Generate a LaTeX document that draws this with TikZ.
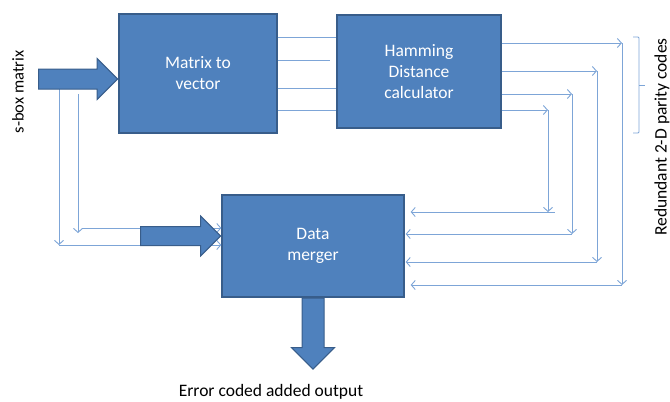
\documentclass[tikz,border=0pt]{standalone}
\usepackage{fontspec}
\setmainfont{Carlito}
\usepackage{xcolor}
\usetikzlibrary{positioning,arrows.meta,shapes.arrows}
\definecolor{boxblue}{RGB}{79,129,189}
\definecolor{edgeblue}{RGB}{56,93,138}
\definecolor{wireblue}{RGB}{125,165,215}

\begin{document}
\begin{tikzpicture}[
  x=1pt,y=-1pt,
  font=\fontsize{17.5}{21}\selectfont,
  blk/.style={draw=edgeblue,line width=1.3pt,fill=boxblue,text=white,align=center,inner sep=0pt},
  fat/.style={single arrow,draw=edgeblue,line width=1pt,fill=boxblue,inner xsep=0pt,inner ysep=9.5pt,single arrow head extend=10.5pt},
  wire/.style={draw=wireblue,line width=0.9pt},
  >={Straight Barb[length=4pt,width=9pt]},
]
\useasboundingbox (0,0) rectangle (670,402);

% processing blocks
\node[blk,minimum width=158pt,minimum height=119pt] (mtv) at (198,73.5) {Matrix to\\vector};
\node[blk,minimum width=164pt,minimum height=113pt] (hdc) at (419,71.5) {Hamming\\Distance\\calculator};
\node[blk,minimum width=182pt,minimum height=102pt] (dm) at (313,246) {Data\\merger};

% vector lines
\foreach \vy in {37,88,110}
  \draw[wire] (mtv.east |- 0,\vy) -- (hdc.west |- 0,\vy);
\draw[wire] (mtv.east |- 0,60) -- ([xshift=-6pt]hdc.west |- 0,60);

% parity codes back to the merger
\foreach \hy/\vx/\ly/\ex in {43/622/285/6, 71/597/262/1, 94/572/234/1, 110/548/212/6}{
  \draw[wire,->] (hdc.east |- 0,\hy) -- (\vx,\hy);
  \draw[wire,->] (\vx,\hy) -- (\vx,\ly);
  \draw[wire,->] (\vx,\ly) -- ([xshift=\ex pt]dm.east |- 0,\ly);
}
\draw[wire] (548,212) -- (555,212);

% s-box taps
\coordinate (tapa) at (59,88);
\coordinate (tapb) at (78,94);
\draw[wire,->] (tapa) -- (59,245);
\draw[wire,->] (59,245) -- (dm.west |- 0,245);
\draw[wire,->] (tapb) -- (78,233);
\draw[wire,->] (82,228) -- (dm.west |- 0,228);

% block arrows
\node[fat,minimum height=79pt,anchor=tip] (sin) at ([yshift=-5.5pt]mtv.west) {};
\node[fat,minimum height=80pt,inner ysep=9pt,anchor=tip] (din) at ([yshift=10pt]dm.west) {};
\node[fat,minimum height=71pt,inner xsep=10.5pt,inner ysep=0pt,shape border rotate=270,anchor=tail] (dout) at (dm.south) {};

% bracket
\draw[wire,rounded corners=1pt] (633,37) -- (639,37) -- (639,133) -- (633,133);
\draw[wire] (639,85) -- (645,85);

% labels
\node[rotate=90,font=\fontsize{16.5}{20}\selectfont] (sbox) at (18,92) {s-box matrix};
\node[rotate=90] (rpc) at (662,137) {Redundant 2-D parity codes};
\node (eca) at (271,392) {Error coded added output};
\end{tikzpicture}
\end{document}
